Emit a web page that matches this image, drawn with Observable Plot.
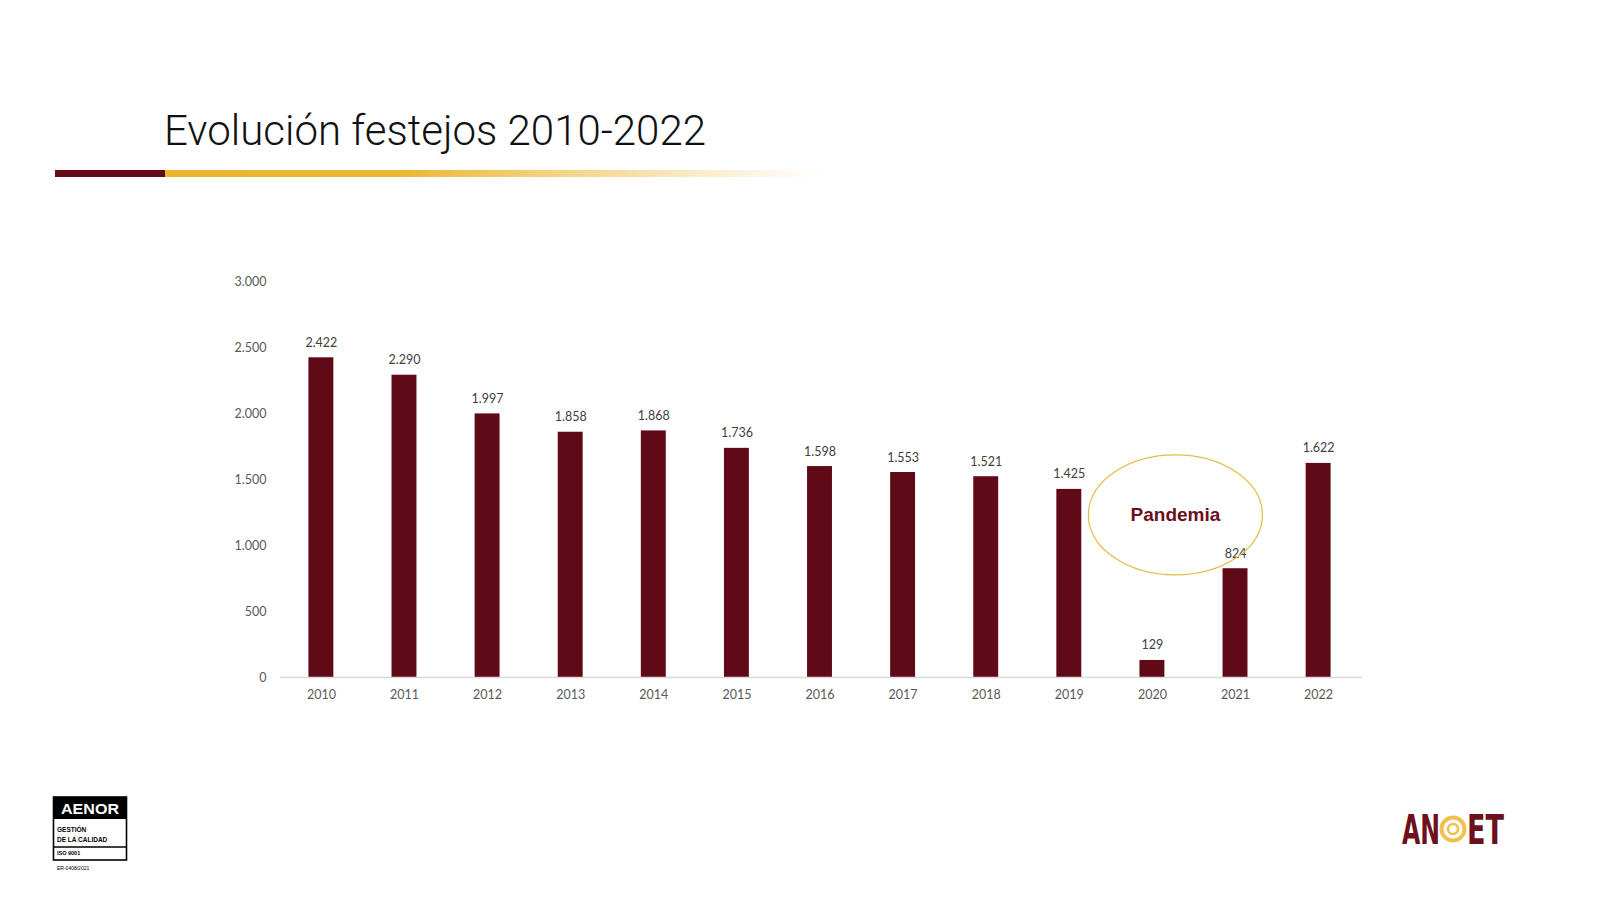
<!DOCTYPE html>
<html>
<head>
<meta charset="utf-8">
<script src="https://cdn.jsdelivr.net/npm/d3@7"></script>
<script src="https://cdn.jsdelivr.net/npm/@observablehq/plot@0.6"></script>
<style>
  html, body { margin: 0; padding: 0; background: #ffffff; }
  #page { position: relative; width: 1600px; height: 907px; overflow: hidden; background: #fff; }
  #header { position: absolute; left: 0; top: 0; }
  #chart { position: absolute; left: 0; top: 230px; }
  #logos { position: absolute; left: 0; top: 770px; }
</style>
</head>
<body>
<div id="page">
  <svg id="header" width="1600" height="200">
    <defs>
      <linearGradient id="goldfade" x1="165" x2="828" y1="0" y2="0" gradientUnits="userSpaceOnUse">
        <stop offset="0" stop-color="#ecb52d" stop-opacity="1"/>
        <stop offset="0.35" stop-color="#ecb630" stop-opacity="1"/>
        <stop offset="0.7" stop-color="#efc35a" stop-opacity="0.55"/>
        <stop offset="1" stop-color="#f3d487" stop-opacity="0"/>
      </linearGradient>
    </defs>
    <text x="164" y="145" font-family="Roboto" font-weight="300" font-size="42" fill="#111" textLength="542" lengthAdjust="spacingAndGlyphs">Evolución festejos 2010-2022</text>
    <rect x="55" y="170" width="110" height="7" fill="#630b18"/>
    <rect x="165" y="170" width="663" height="7" fill="url(#goldfade)"/>
  </svg>
  <div id="chart"></div>
  <svg id="logos" width="1600" height="137">
    <g transform="translate(0,-770)">
      <rect x="53.5" y="797" width="73" height="63" fill="#fff" stroke="#000" stroke-width="1.6"/>
      <rect x="53.5" y="797" width="73" height="22" fill="#000"/>
      <text x="90" y="814" text-anchor="middle" font-family="Liberation Sans" font-weight="bold" font-size="15" fill="#fff" textLength="58" lengthAdjust="spacingAndGlyphs">AENOR</text>
      <text x="57" y="832" font-family="Liberation Sans" font-weight="bold" font-size="6.5" fill="#000">GESTIÓN</text>
      <text x="57" y="841.5" font-family="Liberation Sans" font-weight="bold" font-size="6.5" fill="#000">DE LA CALIDAD</text>
      <line x1="53.5" x2="126.5" y1="847" y2="847" stroke="#000" stroke-width="1.4"/>
      <text x="57" y="854.5" font-family="Liberation Sans" font-weight="bold" font-size="5.5" fill="#000">ISO 9001</text>
      <text x="57" y="870" font-family="Liberation Sans" font-size="5" fill="#000">ER-0408/2021</text>

      <text x="1402" y="844" font-family="DejaVu Sans Condensed" font-weight="bold" font-size="41" fill="#6e0f1c" textLength="38" lengthAdjust="spacingAndGlyphs">AN</text>
      <circle cx="1453" cy="829" r="11.5" fill="none" stroke="#f0c14e" stroke-width="4"/>
      <circle cx="1453" cy="829" r="5" fill="none" stroke="#f0c14e" stroke-width="2.6"/>
      <text x="1467" y="844" font-family="DejaVu Sans Condensed" font-weight="bold" font-size="41" fill="#6e0f1c" textLength="37" lengthAdjust="spacingAndGlyphs">ET</text>
    </g>
  </svg>
</div>
<script>
// ---- data ----
const years = ["2010","2011","2012","2013","2014","2015","2016","2017","2018","2019","2020","2021","2022"];
const festejos = [2422, 2290, 1997, 1858, 1868, 1736, 1598, 1553, 1521, 1425, 129, 824, 1622];
const yTicks = [0, 500, 1000, 1500, 2000, 2500, 3000];
const annotationYear = ["2020"];
const annotationValue = [1232];
const annotationLabel = ["Pandemia"];

const rows = years.map((y, i) => ({year: y, value: festejos[i]}));
const annot = annotationYear.map((y, i) => ({year: y, value: annotationValue[i], label: annotationLabel[i]}));

const esLocale = d3.formatLocale({decimal: ",", thousands: ".", grouping: [3], currency: ["", " €"]});
const fmt = esLocale.format(",");

const ellipseSymbol = {
  draw(ctx) {
    const rx = 87, ry = 60, k = 0.5522848;
    ctx.moveTo(rx, 0);
    ctx.bezierCurveTo(rx, k * ry, k * rx, ry, 0, ry);
    ctx.bezierCurveTo(-k * rx, ry, -rx, k * ry, -rx, 0);
    ctx.bezierCurveTo(-rx, -k * ry, -k * rx, -ry, 0, -ry);
    ctx.bezierCurveTo(k * rx, -ry, rx, -k * ry, rx, 0);
    ctx.closePath();
  }
};

const chart = Plot.plot({
  width: 1600,
  height: 500,
  marginLeft: 280,
  marginRight: 238,
  marginTop: 51,
  marginBottom: 53,
  style: {fontFamily: "Lato, 'Open Sans', sans-serif", fontSize: "12.5px", color: "#595959", background: "transparent"},
  x: {type: "band", domain: years, round: false, paddingInner: 0.7, paddingOuter: 0.36, align: 0.475, label: null, tickSize: 0, tickPadding: 13},
  y: {domain: [0, 3000], ticks: yTicks, tickFormat: fmt, label: null, tickSize: 0, tickPadding: 14},
  marks: [
    Plot.barY(rows, {x: "year", y: "value", fill: "#610a17"}),
    Plot.ruleY([0], {stroke: "#d9d9d9", strokeWidth: 1.3}),
    Plot.text(rows, {x: "year", y: "value", text: d => fmt(d.value), dy: -15, fill: "#404040", fontSize: 12.5}),
    Plot.dot(annot, {x: "year", y: "value", symbol: ellipseSymbol, fill: "none", stroke: "#e4bd45", strokeWidth: 1.2, dx: 23}),
    Plot.text(annot, {x: "year", y: "value", text: "label", dx: 23, fill: "#6b0f1c", fontSize: 19, fontWeight: "bold", fontFamily: "Liberation Sans, Arial, sans-serif"})
  ]
});
document.getElementById("chart").appendChild(chart);
</script>
</body>
</html>
